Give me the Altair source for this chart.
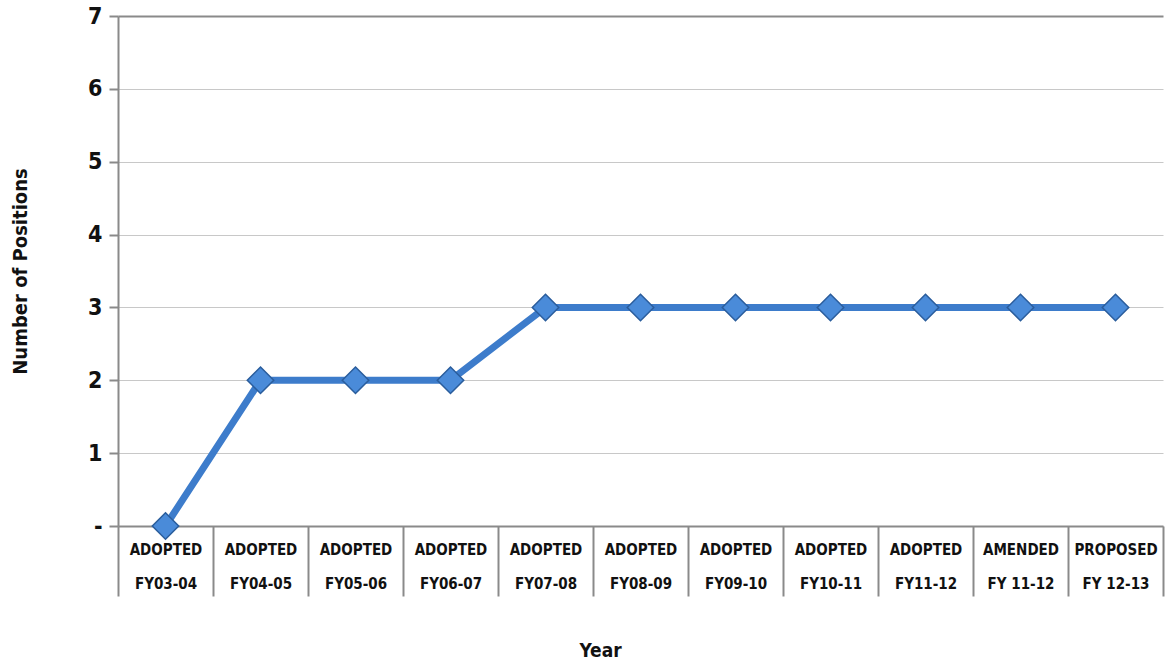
import altair as alt
import pandas as pd

# Budget stage and fiscal year for each point on the x axis
stages = ["ADOPTED", "ADOPTED", "ADOPTED", "ADOPTED", "ADOPTED", "ADOPTED",
          "ADOPTED", "ADOPTED", "ADOPTED", "AMENDED", "PROPOSED"]
years = ["FY03-04", "FY04-05", "FY05-06", "FY06-07", "FY07-08", "FY08-09",
         "FY09-10", "FY10-11", "FY11-12", "FY 11-12", "FY 12-13"]
positions = [0, 2, 2, 2, 3, 3, 3, 3, 3, 3, 3]

labels = [f"{s}|{y}" for s, y in zip(stages, years)]
df = pd.DataFrame({"label": labels, "positions": positions})

FONT = "DejaVu Sans Condensed, Liberation Sans, Arial"
LINE_BLUE = "#3d7ccb"

x_enc = alt.X(
    "label:N",
    sort=labels,
    bandPosition=0.5,
    scale=alt.Scale(type="band", paddingInner=0, paddingOuter=0),
    axis=alt.Axis(
        title="Year",
        titleFont=FONT,
        titleFontSize=19,
        titleFontWeight="bold",
        titleColor="#111",
        titleX=482,
        titleY=124,
        titleBaseline="middle",
        labelExpr="split(datum.label, '|')",
        labelFont=FONT,
        labelFontSize=15,
        labelFontWeight="bold",
        labelColor="#111",
        labelAngle=0,
        labelPadding=-47,
        labelLineHeight=34,
        labelBaseline="middle",
        tickBand="extent",
        tickSize=70,
        tickColor="#8a8a8a",
        tickWidth=2,
        domainColor="#8a8a8a",
        domainWidth=2,
        grid=False,
    ),
)

y_enc = alt.Y(
    "positions:Q",
    scale=alt.Scale(domain=[0, 7], nice=False),
    axis=alt.Axis(
        title="Number of Positions",
        titleFont=FONT,
        titleFontSize=20,
        titleFontWeight="bold",
        titleColor="#111",
        titleX=-98,
        titleY=255,
        titleBaseline="middle",
        values=[0, 1, 2, 3, 4, 5, 6, 7],
        labelExpr="datum.value == 0 ? '-' : datum.label",
        labelFont=FONT,
        labelFontSize=23,
        labelFontWeight="bold",
        labelColor="#111",
        labelPadding=7,
        tickSize=9,
        tickColor="#8a8a8a",
        tickWidth=2,
        domainColor="#8a8a8a",
        domainWidth=2,
        grid=True,
        gridColor={"condition": {"test": "datum.value == 7", "value": "#8a8a8a"},
                   "value": "#c8c8c8"},
        gridWidth={"condition": {"test": "datum.value == 7", "value": 2},
                   "value": 1},
    ),
)

base = alt.Chart(df).encode(x=x_enc, y=y_enc)

line = base.mark_line(color=LINE_BLUE, strokeWidth=7)
points = base.mark_point(
    shape="diamond", filled=True, size=700, color="#4a8bd9",
    stroke="#2a5d9c", strokeWidth=1.5, opacity=1,
)

chart = (
    alt.layer(line, points)
    .properties(
        width=1045,
        height=510,
        autosize=alt.AutoSizeParams(type="none"),
        padding={"left": 118, "top": 16, "right": 6, "bottom": 136},
        background="white",
    )
    .configure_view(stroke=None)
)

chart.save("out.html", embed_options={"renderer": "svg", "actions": False})
